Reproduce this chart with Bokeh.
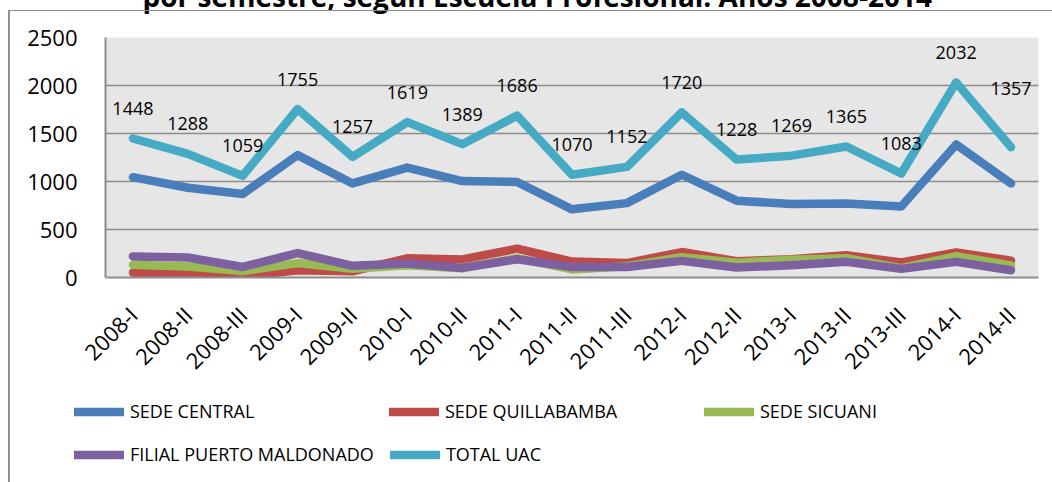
import math
from bokeh.plotting import figure
from bokeh.layouts import column
from bokeh.models import (FactorRange, Range1d, FixedTicker, ColumnDataSource, LabelSet,
                          Legend, LegendItem, GlobalInlineStyleSheet)
from bokeh.core.properties import value
from bokeh.embed import file_html
from bokeh.resources import INLINE

semesters = ["2008-I", "2008-II", "2008-III", "2009-I", "2009-II", "2010-I", "2010-II",
             "2011-I", "2011-II", "2011-III", "2012-I", "2012-II", "2013-I", "2013-II",
             "2013-III", "2014-I", "2014-II"]
sede_central = [1045, 935, 870, 1275, 980, 1145, 1005, 995, 710, 775, 1070, 800, 765, 770, 740, 1385, 980]
sede_quillabamba = [50, 30, 12, 75, 65, 200, 188, 300, 166, 150, 265, 170, 190, 232, 156, 262, 176]
sede_sicuani = [133, 115, 67, 150, 90, 128, 96, 201, 84, 117, 212, 154, 186, 200, 97, 222, 125]
filial_puerto_maldonado = [220, 208, 110, 255, 122, 146, 100, 190, 110, 110, 173, 104, 128, 163, 90, 163, 76]
total_uac = [1448, 1288, 1059, 1755, 1257, 1619, 1389, 1686, 1070, 1152, 1720, 1228, 1269, 1365, 1083, 2032, 1357]
y_ticks = [0, 500, 1000, 1500, 2000, 2500]
title_text = "por semestre, según Escuela Profesional. Años 2008-2014"

series = [
    ("SEDE CENTRAL", sede_central, "#4A7EBB"),
    ("SEDE QUILLABAMBA", sede_quillabamba, "#BE4B48"),
    ("SEDE SICUANI", sede_sicuani, "#98B954"),
    ("FILIAL PUERTO MALDONADO", filial_puerto_maldonado, "#7D60A0"),
    ("TOTAL UAC", total_uac, "#46AAC5"),
]

FONT = "Open Sans"
SHIFT = 46  # page is shifted up so the heading is cut at the top like the reference
LW = 8.5

css = (
    "html { overflow: hidden !important; }"
    "body { margin: -%dpx 0 0 0 !important; height: auto !important; overflow: visible !important; }"
    "body::after { content: ''; position: fixed; left: 8px; top: 10px; right: -20px; bottom: -20px;"
    " border-left: 2px solid #8e8e8e; border-top: 1px solid #8e8e8e; pointer-events: none; z-index: 10; }"
) % SHIFT

p = figure(frame_width=933, frame_height=240,
           x_range=FactorRange(*semesters), y_range=Range1d(0, 2500),
           output_backend="svg", toolbar_location=None,
           min_border_left=105, min_border_right=14, min_border_top=37 + SHIFT,
           min_border_bottom=110)
p.stylesheets = [GlobalInlineStyleSheet(css=css)]

p.title.text = title_text
p.title.align = "left"
p.title.offset = 37
p.title.vertical_align = "top"
p.title.standoff = 40.8
p.title.text_font = FONT
p.title.text_font_size = "28px"
p.title.text_font_style = "bold"
p.title.text_color = "black"

p.background_fill_color = "#e6e6e6"
p.border_fill_color = "white"
p.outline_line_color = None
p.xgrid.grid_line_color = None
p.ygrid.grid_line_color = "#8c8c8c"
p.ygrid.grid_line_width = 1.5

p.yaxis.ticker = FixedTicker(ticks=y_ticks)
p.yaxis.axis_line_color = "#8c8c8c"
p.yaxis.axis_line_width = 2
p.yaxis.major_tick_line_color = None
p.yaxis.minor_tick_line_color = None
p.yaxis.major_label_standoff = 22
p.yaxis.major_label_text_font = FONT
p.yaxis.major_label_text_font_size = "22px"
p.yaxis.major_label_text_color = "black"

p.xaxis.axis_line_color = "#8c8c8c"
p.xaxis.axis_line_width = 2
p.xaxis.major_tick_line_color = None
p.xaxis.minor_tick_line_color = None
p.xaxis.major_label_orientation = math.pi / 4
p.xaxis.major_label_standoff = 27
p.xaxis.major_label_text_font = FONT
p.xaxis.major_label_text_font_size = "22px"
p.xaxis.major_label_text_color = "black"

for name, vals, color in series:
    p.line(semesters, vals, line_color=color, line_width=LW,
           line_cap="round", line_join="round")

label_offsets = [30] * len(total_uac)
label_offsets[-1] = 59
src = ColumnDataSource(dict(x=semesters, y=total_uac, t=[str(v) for v in total_uac], off=label_offsets))
p.add_layout(LabelSet(x="x", y="y", text="t", y_offset="off", source=src,
                      text_align="center", text_baseline="middle",
                      text_font=value(FONT), text_font_size="18px", text_color="black"))

# legend strip below the chart
pl = figure(frame_width=1052, frame_height=95, x_range=Range1d(0, 1), y_range=Range1d(0, 1),
            output_backend="svg", toolbar_location=None, x_axis_type=None, y_axis_type=None,
            min_border=0, min_border_left=0, min_border_right=0, min_border_top=0,
            min_border_bottom=0)
pl.outline_line_color = None
pl.grid.grid_line_color = None
pl.background_fill_color = "white"
pl.border_fill_color = "white"

items = []
for name, vals, color in series:
    # swatch renderers kept outside the visible range; only used by the legend
    r = pl.line([-2, -1], [-2, -2], line_color=color, line_width=LW,
                line_cap="round", line_join="round")
    items.append(LegendItem(label=name, renderers=[r]))

legend_style = dict(orientation="horizontal", padding=0, margin=0, spacing=16,
                    glyph_width=50, glyph_height=27, label_height=27, label_width=243,
                    label_standoff=6, label_text_font=FONT, label_text_font_size="18px",
                    label_text_color="black", border_line_color=None, background_fill_alpha=0)
pl.add_layout(Legend(items=items[:3], location=(74, 58.5), **legend_style), "center")
pl.add_layout(Legend(items=items[3:], location=(74, 15.5), **legend_style), "center")

layout = column(p, pl, spacing=0)
open("out.html", "w").write(file_html(layout, INLINE))
